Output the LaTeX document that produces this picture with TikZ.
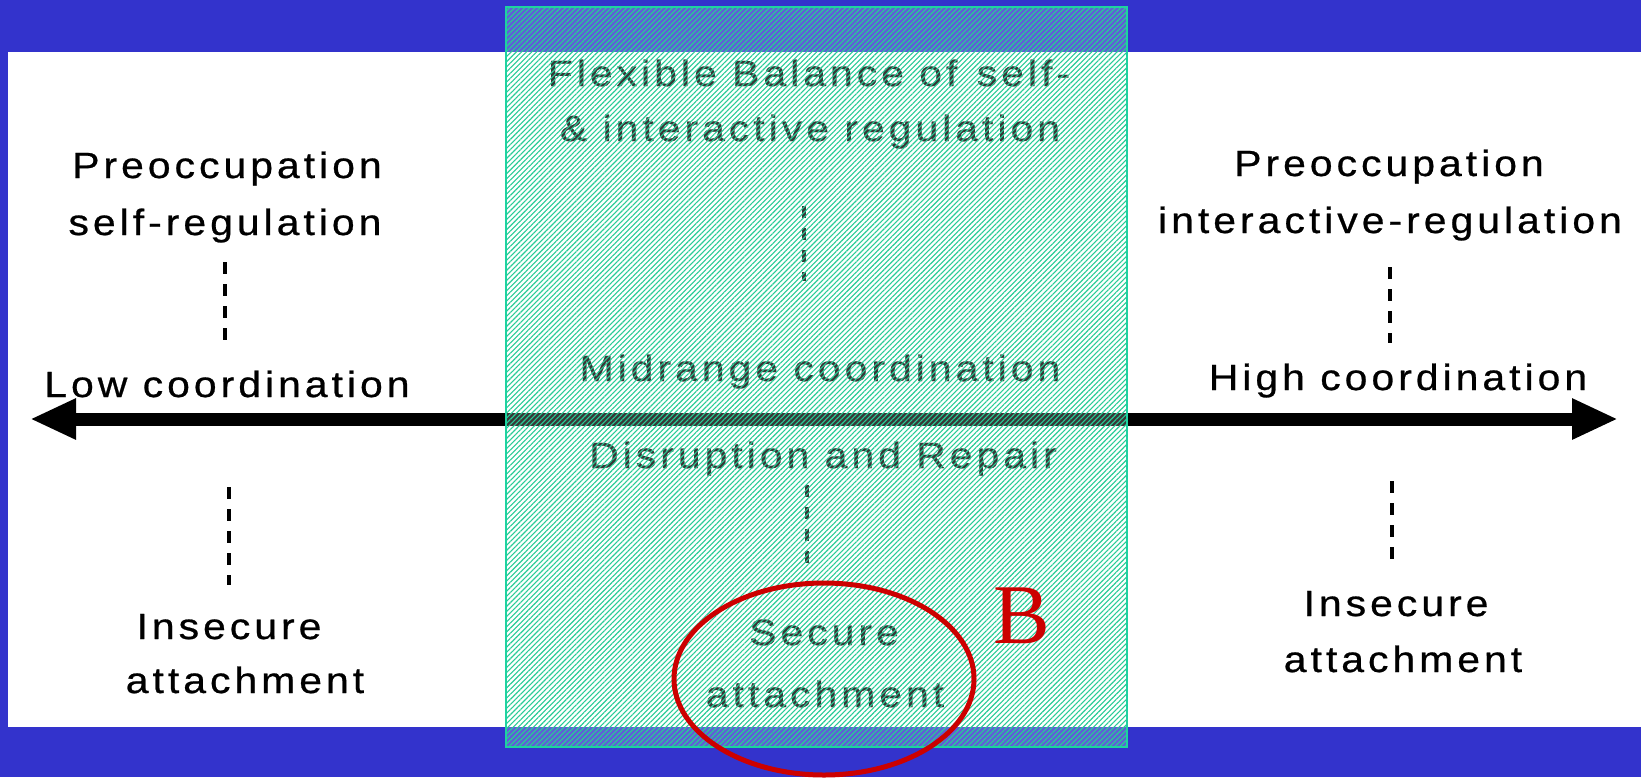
\documentclass[tikz,border=0pt]{standalone}
\usepackage{fontspec}
\setmainfont{Liberation Sans}
\newfontfamily\labelfont[LetterSpace=11, FakeStretch=1.12, FakeBold=0.7]{Liberation Sans}
\newfontfamily\markfont{Liberation Serif}
\usetikzlibrary{arrows.meta}
\usetikzlibrary{patterns.meta}
\usetikzlibrary{shapes.geometric}
\definecolor{slideblue}{RGB}{51,51,204}
\definecolor{hatchteal}{RGB}{40,204,150}
\definecolor{zoneedge}{RGB}{30,210,160}
\definecolor{ringred}{RGB}{204,0,0}

\begin{document}
\begin{tikzpicture}[x=1pt, y=-1pt,
    every node/.style={inner sep=0pt, outer sep=0pt},
    lbl/.style={anchor=base, font=\labelfont\fontsize{36.5}{40}\selectfont},
    dashy/.style={line width=4pt, dash pattern=on 12pt off 10pt},
    bigarrow/.style={line width=13pt,
      {Triangle[length=46pt, width=38pt]}-{Triangle[length=46pt, width=38pt]}},
    ring/.style={ellipse, draw=ringred, line width=5pt,
      minimum width=300pt, minimum height=192pt}
  ]
    \useasboundingbox (0,0) rectangle (1641,777);
    \fill[slideblue] (0,0) rectangle (1641,777);
    \fill[white] (8,52) rectangle (1641,727);

    % low end
    \node[lbl] (preL) at (227,178) {Preoccupation};
    \node[lbl] (selfreg) at (225,235) {self-regulation};
    \node[lbl] (lowco) at (227,397) {Low coordination};
    \node[lbl] (insecL) at (229,639) {Insecure};
    \node[lbl] (attachL) at (245,693) {attachment};

    % high end
    \node[lbl] (preR) at (1389,176) {Preoccupation};
    \node[lbl] (intreg) at (1390,233) {interactive-regulation};
    \node[lbl] (highco) at (1398,390) {High coordination};
    \node[lbl] (insecR) at (1396,616) {Insecure};
    \node[lbl] (attachR) at (1403,672) {attachment};

    % midrange
    \node[lbl] (flexA) at (809,86) {Flexible Balance of\kern4pt{} self-};
    \node[lbl] (flexB) at (810,141) {\& interactive regulation};
    \node[lbl] (midco) at (820,381) {Midrange coordination};
    \node[lbl] (repair) at (823,468) {Disruption and Repair};
    \node[lbl] (secure) at (824,645) {Secure};
    \node[lbl] (attachM) at (825,707) {attachment};

    \coordinate (dashMA) at ([xshift=-6pt]flexB.south);
    \coordinate (dashMB) at ([xshift=-16pt]repair.south);
    \coordinate (dashRB) at ([xshift=-4pt]insecR.north);

    \draw[dashy, shorten <=19.6pt, shorten >=30.5pt] (selfreg.south) -- (selfreg.south |- lowco.north);
    \draw[dashy, shorten <=90pt, shorten >=29pt] (insecL.north |- lowco.south) -- (insecL.north);
    \draw[dashy, shorten <=57.6pt, shorten >=73.5pt] (dashMA) -- (dashMA |- midco.north);
    \draw[dashy, shorten <=9.6pt, shorten >=51pt] (dashMB) -- (dashMB |- secure.north);
    \draw[dashy, shorten <=26.6pt, shorten >=20.5pt] (intreg.south) -- (intreg.south |- highco.north);
    \draw[dashy, shorten <=83.6pt, shorten >=31.9pt] (dashRB |- highco.south) -- (dashRB);

    \coordinate (lowend) at (30,419);
    \coordinate (highend) at (1618,419);
    \draw[bigarrow] (lowend) -- (highend);

    % hatched band
    \fill[white, fill opacity=0.22] (506,7) rectangle (1127,747);
    \path[pattern={Lines[angle=45, distance=3.6pt, line width=1.1pt]},
      pattern color=hatchteal, fill opacity=0.38] (506,7) rectangle (1127,747);
    \draw[zoneedge, line width=2pt] (506,7) rectangle (1127,747);

    \node[ring] (ring) at (824,679) {};
    \node[anchor=base, text=ringred, font=\markfont\fontsize{85}{85}\selectfont] (markB) at (1022,643) {B};
\end{tikzpicture}
\end{document}
